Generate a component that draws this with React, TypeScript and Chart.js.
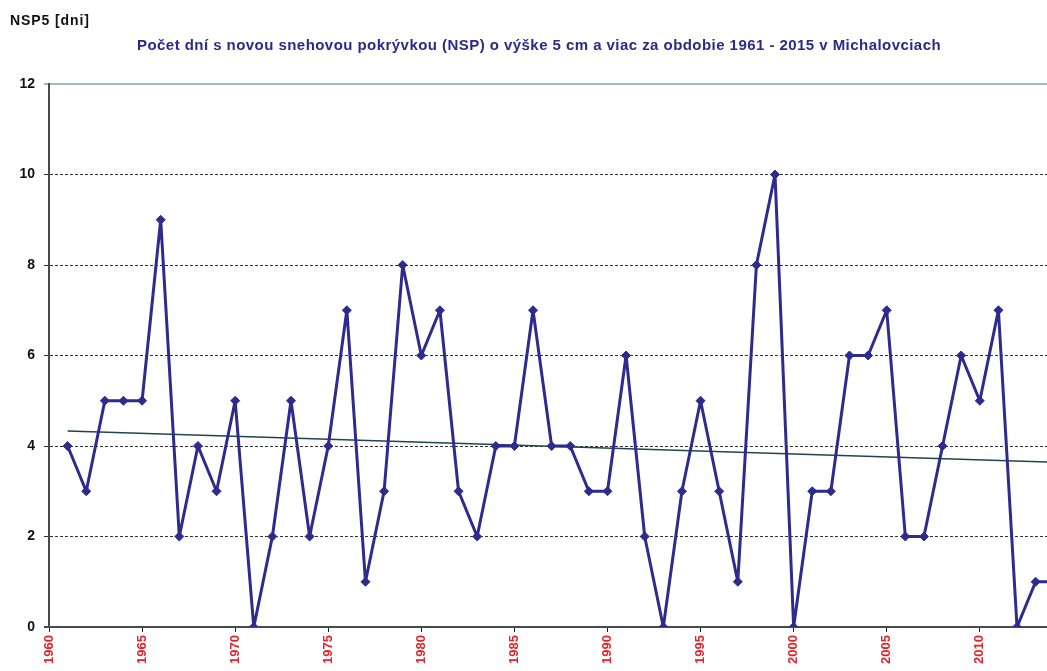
import React, { useEffect, useRef } from "react";
import { Chart, registerables } from "chart.js";

Chart.register(...registerables);

const years = [
  1961, 1962, 1963, 1964, 1965, 1966, 1967, 1968, 1969, 1970,
  1971, 1972, 1973, 1974, 1975, 1976, 1977, 1978, 1979, 1980,
  1981, 1982, 1983, 1984, 1985, 1986, 1987, 1988, 1989, 1990,
  1991, 1992, 1993, 1994, 1995, 1996, 1997, 1998, 1999, 2000,
  2001, 2002, 2003, 2004, 2005, 2006, 2007, 2008, 2009, 2010,
  2011, 2012, 2013, 2014,
];
const nspDays = [
  4, 3, 5, 5, 5, 9, 2, 4, 3, 5,
  0, 2, 5, 2, 4, 7, 1, 3, 8, 6,
  7, 3, 2, 4, 4, 7, 4, 4, 3, 3,
  6, 2, 0, 3, 5, 3, 1, 8, 10, 0,
  3, 3, 6, 6, 7, 2, 2, 4, 6, 5,
  7, 0, 1, 1,
];
const trendYears = [1961, 2015];
const trendValues = [4.33, 3.63];

const yTicks = [0, 2, 4, 6, 8, 10, 12];
const xTickStep = 5;

const axisTitle = "NSP5 [dni]";
const chartTitle =
  "Počet dní s novou snehovou pokrývkou (NSP) o výške 5 cm a viac za obdobie 1961 - 2015 v Michalovciach";

const headerPlugin = {
  id: "headerTexts",
  afterDraw(chart: any) {
    const ctx = chart.ctx;
    ctx.save();
    ctx.textBaseline = "middle";
    ctx.textAlign = "left";
    ctx.fillStyle = "#111111";
    ctx.font = "bold 14px 'Liberation Sans', Arial, sans-serif";
    ctx.letterSpacing = "0.9px";
    ctx.fillText(axisTitle, 10, 21);
    ctx.fillStyle = "#2b2a8a";
    ctx.font = "bold 15px 'Liberation Sans', Arial, sans-serif";
    ctx.letterSpacing = "0.45px";
    ctx.fillText(chartTitle, 137, 46);
    ctx.letterSpacing = "0px";
    ctx.restore();
  },
};

export default function App() {
  const ref = useRef<HTMLCanvasElement | null>(null);

  useEffect(() => {
    document.body.style.margin = "0";
    document.body.style.overflow = "hidden";
    const canvas = ref.current;
    if (!canvas) return;
    const chart = new Chart(canvas, {
      type: "line",
      data: {
        datasets: [
          {
            label: "NSP5",
            data: years.map((y, i) => ({ x: y, y: nspDays[i] })),
            borderColor: "#2e2b8e",
            backgroundColor: "#2e2b8e",
            borderWidth: 3,
            borderJoinStyle: "round",
            pointStyle: "rectRot",
            pointRadius: 4.5,
            pointBorderWidth: 1,
            tension: 0,
            order: 1,
          },
          {
            label: "trend",
            data: trendYears.map((y, i) => ({ x: y, y: trendValues[i] })),
            borderColor: "#1f454d",
            borderWidth: 1.5,
            pointRadius: 0,
            tension: 0,
            order: 2,
          },
        ],
      },
      options: {
        animation: false,
        responsive: false,
        maintainAspectRatio: false,
        layout: { autoPadding: false, padding: { top: 84, left: 0, right: 0, bottom: 0 } },
        plugins: {
          legend: { display: false },
          title: { display: false },
          tooltip: { enabled: false },
        },
        scales: {
          x: {
            type: "linear",
            min: 1960,
            max: 2013.61,
            afterFit: (s: any) => {
              s.height = 44;
              s.paddingRight = 0;
            },
            afterBuildTicks: (s: any) => {
              const t = [];
              for (let v = 1960; v <= 2010; v += xTickStep) t.push({ value: v });
              s.ticks = t;
            },
            ticks: {
              maxRotation: 90,
              minRotation: 90,
              autoSkip: false,
              color: "#e3222c",
              padding: 3,
              font: { family: "'Liberation Sans', Arial, sans-serif", size: 13, weight: "bold" },
              callback: (v: any) => String(v),
            },
            grid: {
              drawOnChartArea: false,
              drawTicks: true,
              tickLength: 5,
              color: "#222222",
              lineWidth: 1,
            },
            border: { display: true, color: "#4a4a4a", width: 2 },
          },
          y: {
            type: "linear",
            min: 0,
            max: 12,
            afterFit: (s: any) => {
              s.width = 49;
            },
            afterBuildTicks: (s: any) => {
              s.ticks = yTicks.map((v) => ({ value: v }));
            },
            ticks: {
              color: "#111111",
              padding: 9,
              font: { family: "'Liberation Sans', Arial, sans-serif", size: 14, weight: "bold" },
            },
            grid: {
              drawTicks: true,
              tickLength: 5,
              color: (c: any) =>
                c.tick && c.tick.value === 12 ? "#9fbcc6" : c.tick && c.tick.value === 0 ? "#4a4a4a" : "#333333",
              lineWidth: (c: any) => (c.tick && (c.tick.value === 12 || c.tick.value === 0) ? 2 : 1),
            },
            border: {
              display: true,
              color: "#4a4a4a",
              width: 2,
              dash: (c: any) => (c.tick && (c.tick.value === 12 || c.tick.value === 0) ? [] : [3, 2]),
            },
          },
        },
      },
      plugins: [headerPlugin],
    } as any);
    return () => chart.destroy();
  }, []);

  return (
    <div style={{ width: 1047, height: 671 }}>
      <canvas ref={ref} width={1047} height={671} style={{ display: "block", width: 1047, height: 671 }} />
    </div>
  );
}
